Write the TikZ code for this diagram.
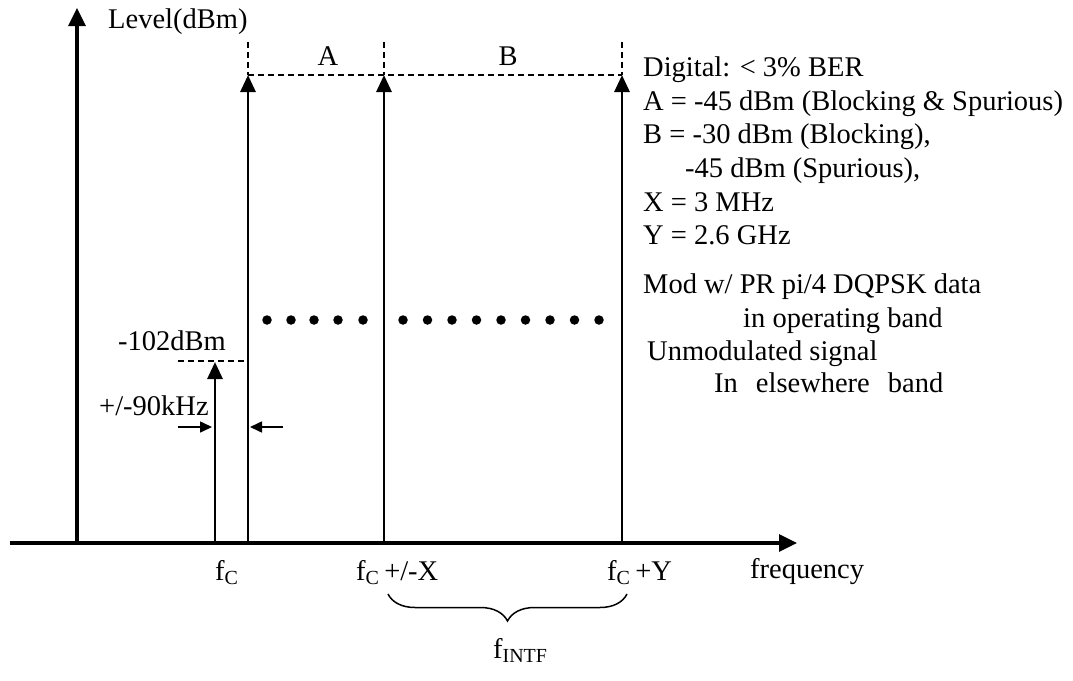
\documentclass[tikz,border=0pt]{standalone}
\usepackage{fontspec}
\setmainfont{Liberation Serif}
\usetikzlibrary{arrows.meta,decorations.pathreplacing}
\begin{document}
\begin{tikzpicture}[x=1pt,y=-1pt,
  lbl/.style={inner sep=0pt, anchor=base west, font=\fontsize{28.5}{33.5}\selectfont},
  sig/.style={line width=2.9pt, -{Triangle[length=17pt,width=15pt]}},
  axis/.style={line width=3.1pt, -{Triangle[length=18pt,width=17pt]}},
  guide/.style={line width=1.2pt, dash pattern=on 6pt off 4pt},
  dimarrow/.style={line width=1.6pt, -{Triangle[length=12pt,width=11pt]}},
  dotm/.style={circle, fill, inner sep=0pt, minimum size=9.5pt}]
\useasboundingbox (0,0) rectangle (1073,680);

% axes
\coordinate (o) at (77,543);
\coordinate (ytop) at (77,8);
\coordinate (xl) at (10,543);
\coordinate (xr) at (797,543);
\draw[axis] (o) -- (ytop);
\draw[axis] (xl) -- (xr);

% signal arrows
\coordinate (c0) at (215,543); \coordinate (t0) at (215,362);
\coordinate (c1) at (248,543); \coordinate (t1) at (248,75);
\coordinate (c2) at (384,543); \coordinate (t2) at (384,75);
\coordinate (c3) at (622,543); \coordinate (t3) at (622,75);
\draw[sig] (c0) -- (t0);
\draw[sig] (c1) -- (t1);
\draw[sig] (c2) -- (t2);
\draw[sig] (c3) -- (t3);

% dashed guides
\coordinate (g1) at (248,42); \coordinate (g2) at (384,42); \coordinate (g3) at (622,42);
\draw[guide] (t1) -- (t3);
\draw[guide] (g1) -- (t1);
\draw[guide] (g2) -- (t2);
\draw[guide] (g3) -- (t3);
\coordinate (lvl) at (178,361); \coordinate (lvr) at (245,361);
\draw[guide] (lvl) -- (lvr);

% 90 kHz arrows
\coordinate (da) at (178,427); \coordinate (db) at (212,427);
\coordinate (dc) at (283,427); \coordinate (dd) at (250,427);
\draw[dimarrow] (da) -- (db);
\draw[dimarrow] (dc) -- (dd);

% dots
\foreach \x [count=\i] in {267,291,314,338,363}
  \node[dotm] (pa\i) at (\x,320) {};
\foreach \k [count=\i] in {0,...,8}
  \node[dotm] (pb\i) at ({403+24.5*\k},320) {};

% brace
\coordinate (br) at (627,594); \coordinate (bl) at (388,594);
\draw[line width=1.5pt, decorate, decoration={brace, amplitude=27pt}] (br) -- (bl);

% labels
\node[lbl] (ylab) at (108,28) {Level(dBm)};
\node[lbl, anchor=base] (la) at (328,65) {A};
\node[lbl, anchor=base] (lb) at (508,65) {B};
\node[lbl] (l102) at (118,350) {-102dBm};
\node[lbl] (l90) at (99,415) {+/-90kHz};
\node[lbl] (fc0) at (215,580) {f\textsubscript{C}};
\node[lbl] (fcx) at (356,580) {f\textsubscript{C}\,+/-X};
\node[lbl] (fcy) at (607,580) {f\textsubscript{C}\,+Y};
\node[lbl] (freq) at (750,578) {frequency};
\node[lbl] (fintf) at (493,658) {f\textsubscript{INTF}};

% legend
\node[lbl] (n1) at (643,76) {Digital: < 3\% BER};
\node[lbl] (n2) at (643,110) {A = -45 dBm (Blocking \& Spurious)};
\node[lbl] (n3) at (643,143) {B = -30 dBm (Blocking),};
\node[lbl] (n4) at (685,177) {-45 dBm (Spurious),};
\node[lbl] (n5) at (643,211) {X = 3 MHz};
\node[lbl] (n6) at (643,244) {Y = 2.6 GHz};
\node[lbl] (n7) at (643,293) {Mod w/ PR pi/4 DQPSK data};
\node[lbl] (n8) at (743,327) {in operating band};
\node[lbl] (n9) at (647,360) {Unmodulated signal};
\node[lbl] (n10) at (714,392) {In\hspace{18pt}elsewhere\hspace{18pt}band};
\end{tikzpicture}
\end{document}
